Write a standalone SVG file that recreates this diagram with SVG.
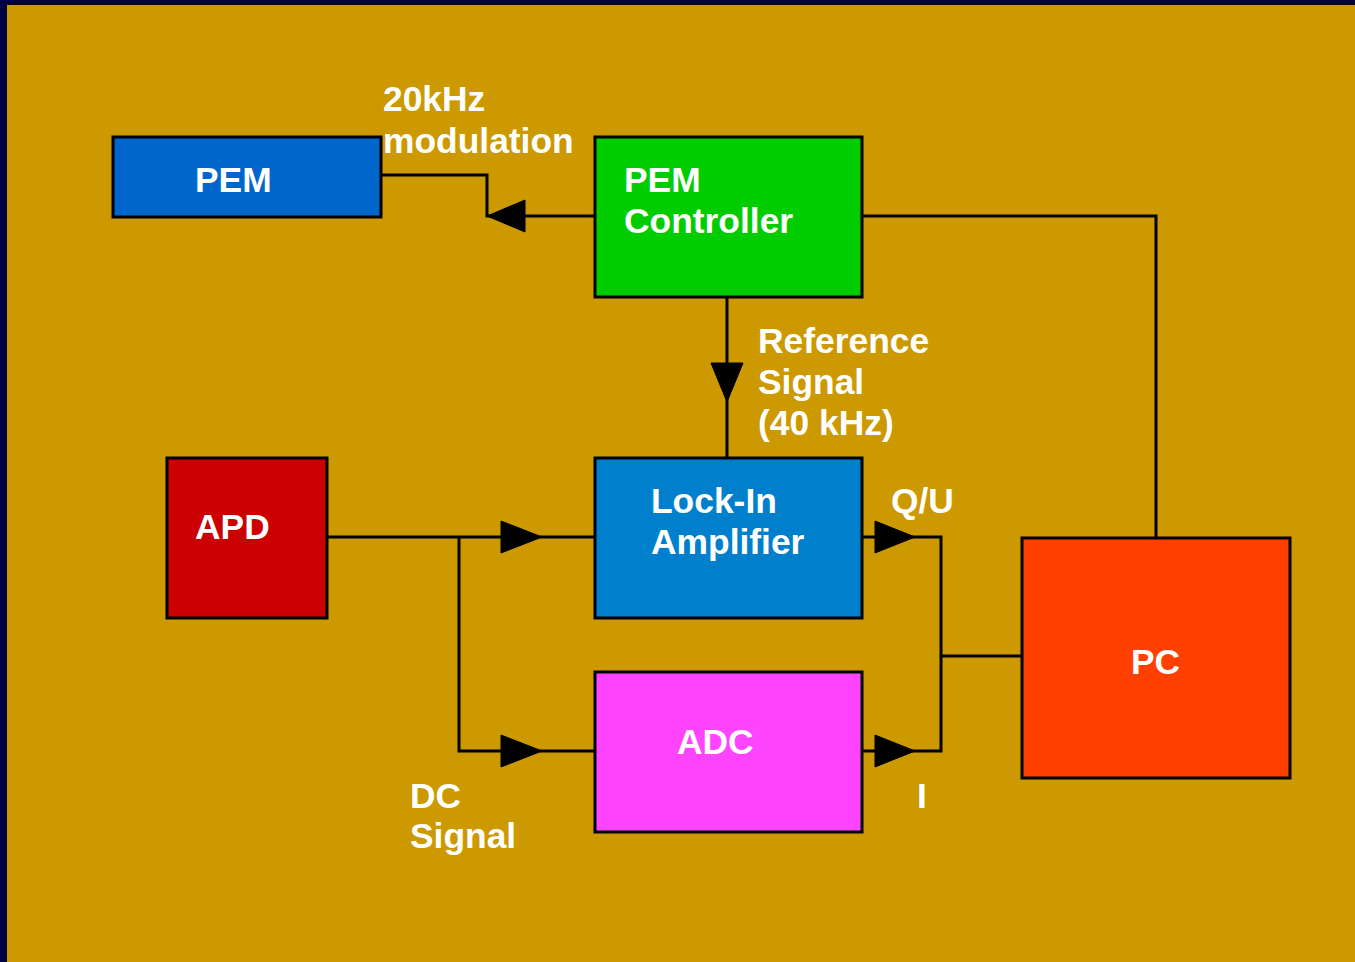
<svg xmlns="http://www.w3.org/2000/svg" width="1355" height="962" viewBox="0 0 1355 962">
<style>
.box{stroke:#000;stroke-width:3}
.t{font-family:"Liberation Sans",Arial,sans-serif;font-weight:bold;font-size:35.4px;fill:#fff}
.ln{fill:none;stroke:#000;stroke-width:3}
.ah{fill:#000;stroke:#000;stroke-width:1}
</style>
<rect x="0" y="0" width="1355" height="962" fill="#000044"/>
<rect x="6" y="4" width="1349" height="958" fill="#0a0a10"/>
<rect x="7" y="5" width="1348" height="957" fill="#CC9900"/>

<g id="connectors">
  <polyline class="ln" points="595,216 487,216 487,175 381,175"/>
  <polygon class="ah" points="487,216 525,200 525,232"/>
  <line class="ln" x1="727" y1="297" x2="727" y2="458"/>
  <polygon class="ah" points="727,402 711,363 743,363"/>
  <line class="ln" x1="327" y1="537" x2="595" y2="537"/>
  <polygon class="ah" points="542,537 501,521 501,553"/>
  <polyline class="ln" points="459,537 459,751 595,751"/>
  <polygon class="ah" points="542,751 501,735 501,767"/>
  <polyline class="ln" points="862,537 941,537 941,751 862,751"/>
  <polygon class="ah" points="915,537 875,521 875,553"/>
  <polygon class="ah" points="915,751 875,735 875,767"/>
  <line class="ln" x1="941" y1="656" x2="1022" y2="656"/>
  <polyline class="ln" points="862,216 1156,216 1156,538"/>
</g>

<g id="pem">
  <rect class="box" x="113" y="137" width="268" height="80" fill="#0066CC"/>
  <text class="t" x="195" y="192">PEM</text>
</g>
<g id="pem-controller">
  <rect class="box" x="595" y="137" width="267" height="160" fill="#00CC00"/>
  <text class="t" x="624" y="192">PEM</text>
  <text class="t" x="624" y="233">Controller</text>
</g>
<g id="apd">
  <rect class="box" x="167" y="458" width="160" height="160" fill="#CC0000"/>
  <text class="t" x="195" y="539">APD</text>
</g>
<g id="lockin">
  <rect class="box" x="595" y="458" width="267" height="160" fill="#0080CC"/>
  <text class="t" x="651" y="513">Lock-In</text>
  <text class="t" x="651" y="554">Amplifier</text>
</g>
<g id="adc">
  <rect class="box" x="595" y="672" width="267" height="160" fill="#FF44FF"/>
  <text class="t" x="677" y="754">ADC</text>
</g>
<g id="pc">
  <rect class="box" x="1022" y="538" width="268" height="240" fill="#FF4000"/>
  <text class="t" x="1131" y="674">PC</text>
</g>

<g id="labels">
  <text class="t" x="383" y="111">20kHz</text>
  <text class="t" x="383" y="153">modulation</text>
  <text class="t" x="758" y="353">Reference</text>
  <text class="t" x="758" y="394">Signal</text>
  <text class="t" x="758" y="435">(40 kHz)</text>
  <text class="t" x="891" y="513">Q/U</text>
  <text class="t" x="917" y="808">I</text>
  <text class="t" x="410" y="808">DC</text>
  <text class="t" x="410" y="848">Signal</text>
</g>
</svg>
